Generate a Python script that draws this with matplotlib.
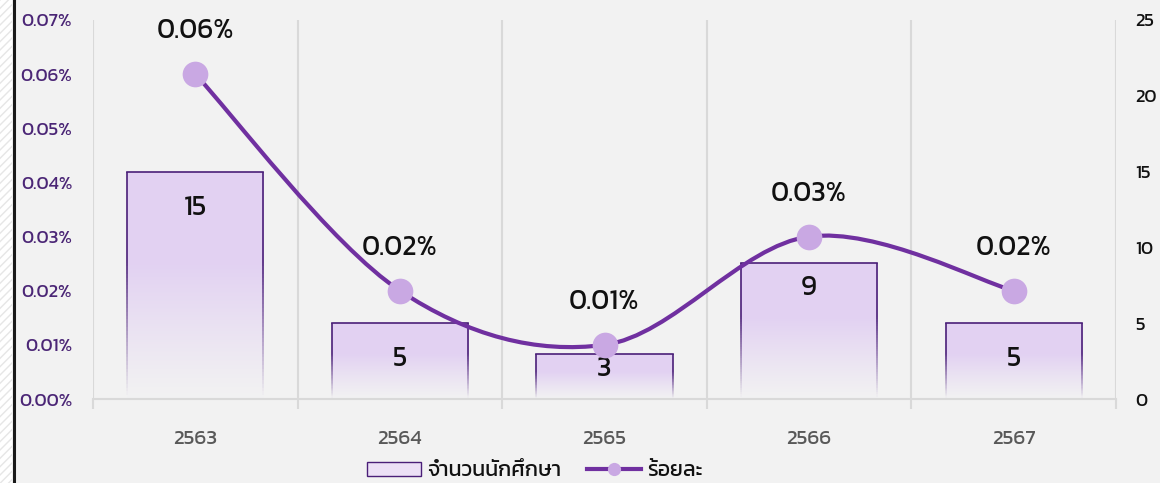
import numpy as np
import matplotlib
matplotlib.use("Agg")
import matplotlib.pyplot as plt
from matplotlib import font_manager
from matplotlib.path import Path
from matplotlib.patches import PathPatch, Patch, Rectangle
from matplotlib.lines import Line2D
from matplotlib.collections import LineCollection

# pick a font with Thai glyphs
avail = set(f.name for f in font_manager.fontManager.ttflist)
font = "DejaVu Sans"
for name in ["Kanit", "Prompt", "Bai Jamjuree", "Athiti"]:
    if name in avail:
        font = name
        break
plt.rcParams["font.family"] = [font, "DejaVu Sans"]

years = ["2563", "2564", "2565", "2566", "2567"]
students = [15, 5, 3, 9, 5]
percent = [0.06, 0.02, 0.01, 0.03, 0.02]
percent_labels = ["0.06%", "0.02%", "0.01%", "0.03%", "0.02%"]
left_ticks = [0.00, 0.01, 0.02, 0.03, 0.04, 0.05, 0.06, 0.07]
right_ticks = [0, 5, 10, 15, 20, 25]

# how far below the bar top each count label sits (points)
bar_label_offsets = [26, 26, 11, 18, 26]

bg = "#f2f2f2"
bar_color = np.array([0.89, 0.82, 0.95])
edge_color = "#4a1f78"
line_color = "#7030a0"
marker_color = "#c9a8e3"
grid_color = "#d9d9d9"

fig = plt.figure(figsize=(11.6, 4.83), dpi=100, facecolor=bg)
ax = fig.add_axes([93 / 1160, 1 - 399 / 483, (1116 - 93) / 1160, (399 - 20) / 483])
ax.set_facecolor(bg)
ax2 = ax.twinx()

x = np.arange(len(years))
width = 0.665


def fade(t):
    # full colour for the top ~40%, then down to nothing at the base
    return np.clip(1 - (t - 0.4) / 0.6, 0, 1) ** 1.1


# bars (counts, right axis scale) with a top-down fade
bars = ax.bar(x, students, width=width, color="none", edgecolor="none")
for rect, h in zip(bars, students):
    x0 = rect.get_x()
    x1 = x0 + rect.get_width()
    t = np.linspace(0, 1, 200)
    img = np.zeros((200, 1, 4))
    img[:, 0, :3] = bar_color
    img[:, 0, 3] = fade(t)
    im = ax.imshow(img, extent=(x0, x1, 0, h), origin="upper", aspect="auto",
                   interpolation="bilinear", zorder=2)
    im.set_clip_path(rect)
    # outline: solid top, sides fading out with the fill
    ax.plot([x0, x1], [h, h], color=edge_color, lw=1.2, zorder=3, solid_capstyle="projecting")
    n = 60
    ys = np.linspace(h, 0, n + 1)
    a = fade(np.linspace(0, 1, n))
    for xe in (x0, x1):
        segs = [[(xe, ys[i]), (xe, ys[i + 1])] for i in range(n)]
        cols = [(0.29, 0.12, 0.47, ai) for ai in a]
        ax.add_collection(LineCollection(segs, colors=cols, linewidths=1.2, zorder=3))

for xi, h, off in zip(x, students, bar_label_offsets):
    ax.annotate(str(h), (xi, h), xytext=(0, -off), textcoords="offset points",
                ha="center", va="center", fontsize=20, color="#111111", zorder=5)

ax.set_xlim(-0.5, len(years) - 0.5)
ax.set_ylim(0, 25)
ax.set_yticks(right_ticks)
ax.yaxis.tick_right()
ax.tick_params(axis="y", length=0, pad=14, labelsize=13.5, labelcolor="#111111")

# vertical grid between categories
for b in np.arange(-0.5, len(years), 1.0):
    ax.axvline(b, color=grid_color, lw=1.5, zorder=1)
ax.set_xticks(x)
ax.set_xticklabels(years)
ax.set_xticks(np.arange(-0.5, len(years), 1.0), minor=True)
ax.tick_params(axis="x", which="major", length=0, pad=22, labelsize=15, labelcolor="#595959")
ax.tick_params(axis="x", which="minor", length=7, width=1.5, color=grid_color)
for s in ["top", "left", "right"]:
    ax.spines[s].set_visible(False)
ax.spines["bottom"].set_color(grid_color)
ax.spines["bottom"].set_linewidth(1.5)

# smooth percent line (left axis scale)
pts = np.column_stack([x, percent])
ext = np.vstack([pts[0], pts, pts[-1]])
verts = [tuple(pts[0])]
codes = [Path.MOVETO]
for i in range(len(pts) - 1):
    p0, p1, p2, p3 = ext[i], ext[i + 1], ext[i + 2], ext[i + 3]
    c1 = p1 + (p2 - p0) / 6
    c2 = p2 - (p3 - p1) / 6
    verts += [tuple(c1), tuple(c2), tuple(p2)]
    codes += [Path.CURVE4] * 3
ax2.add_patch(PathPatch(Path(verts, codes), facecolor="none", edgecolor=line_color,
                        lw=3.0, capstyle="round", zorder=4))
ax2.plot(x, percent, "o", color=marker_color, markersize=18.5, markeredgewidth=0, zorder=5)
for xi, p, lab in zip(x, percent, percent_labels):
    ax2.annotate(lab, (xi, p), xytext=(0, 31), textcoords="offset points",
                 ha="center", va="center", fontsize=20, color="#111111")

ax2.set_ylim(0, 0.07)
ax2.set_yticks(left_ticks)
ax2.set_yticklabels([f"{v:.2f}%" for v in left_ticks])
ax2.yaxis.tick_left()
ax2.tick_params(axis="y", length=0, pad=15, labelsize=13.5, labelcolor="#4b2676")
for s in ax2.spines.values():
    s.set_visible(False)

# legend
handles = [
    Patch(facecolor="#ece0f6", edgecolor=edge_color, linewidth=1.0),
    Line2D([0], [0], color=line_color, lw=3.0, marker="o", markersize=9.5,
           markerfacecolor=marker_color, markeredgewidth=0),
]
fig.legend(handles, ["จำนวนนักศึกษา", "ร้อยละ"], loc="center",
           bbox_to_anchor=(535 / 1160, 1 - 471 / 483), ncol=2, frameon=False,
           fontsize=15.4, handlelength=2.5, handleheight=0.65, handletextpad=0.3,
           columnspacing=1.2, labelcolor="#111111")

# hatched strip and dark rule on the left edge
fig.patches.append(Rectangle((0, 0), 12 / 1160, 1, transform=fig.transFigure,
                             facecolor="white", edgecolor="#e6e6e6", hatch="////",
                             lw=0, zorder=0))
fig.add_artist(Line2D([13.5 / 1160, 13.5 / 1160], [0, 1], transform=fig.transFigure,
                      color="#1a1a1a", lw=2.2))

fig.savefig("out.png", dpi=100, facecolor=bg)
